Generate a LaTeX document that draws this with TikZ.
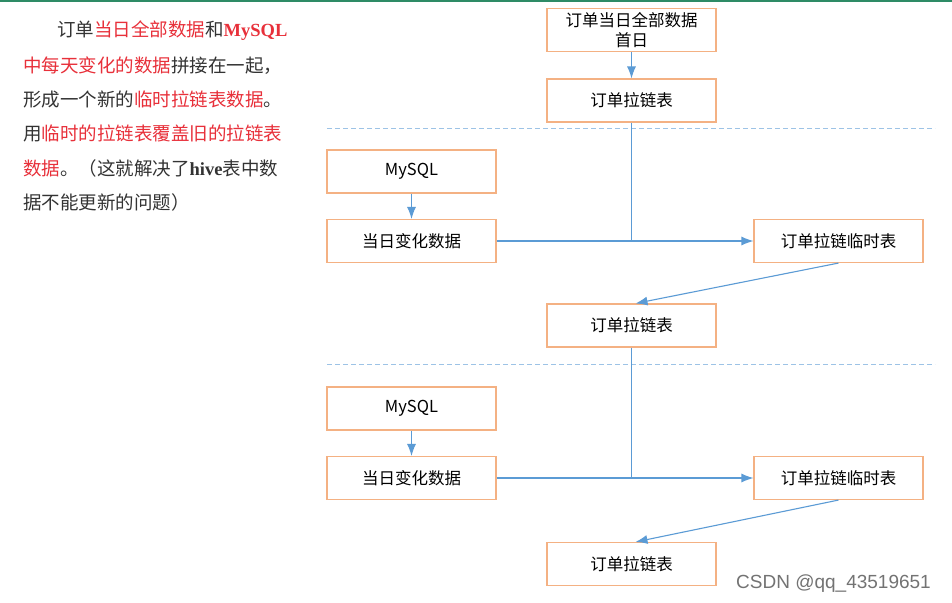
\documentclass[tikz,border=0pt]{standalone}
\usepackage{fontspec}
\setmainfont{Noto Sans CJK SC}
\newfontfamily\latinserif{Liberation Serif}
\newfontfamily\wmfont{Liberation Sans}
\usetikzlibrary{arrows.meta}
\definecolor{boxline}{HTML}{F4B183}
\definecolor{arrowc}{HTML}{5B9BD5}
\definecolor{dashc}{HTML}{9DC3E6}
\definecolor{redtxt}{HTML}{E8303A}
\definecolor{txt}{HTML}{333333}
\definecolor{topgreen}{HTML}{2E8B66}
\tikzset{
  flowbox/.style={draw=boxline, line width=1.1pt, fill=white, minimum width=169pt, minimum height=43pt, inner sep=0pt, font=\fontsize{16.5}{20}\selectfont, text=black, align=center},
  conn/.style={draw=arrowc, line width=1.1pt},
  arr/.style={conn, -{Latex[length=12pt,width=9pt]}},
  sep/.style={draw=dashc, line width=0.8pt, dash pattern=on 5pt off 3pt},
  para/.style={anchor=base west, inner sep=0pt, font=\fontsize{18.5}{22}\selectfont, text=txt},
}
\newcommand{\rd}[1]{\textcolor{redtxt}{#1}}
\begin{document}
\begin{tikzpicture}[x=1pt,y=-1pt]
\useasboundingbox (0,0) rectangle (952,602);
\fill[white] (0,0) rectangle (952,602);
\fill[topgreen] (0,0) rectangle (952,2.5);

% left paragraph
\node[para] (l1) at (57,37) {订单\rd{当日全部数据}和\rd{\latinserif\bfseries MySQL}};
\node[para] (l2) at (23,72) {\rd{中每天变化的数据}拼接在一起，};
\node[para] (l3) at (23,106) {形成一个新的\rd{临时拉链表数据}。};
\node[para] (l4) at (23,140) {用\rd{临时的拉链表覆盖旧的拉链表}};
\node[para] (l5) at (23,175) {\rd{数据}。（这就解决了{\latinserif\bfseries hive}表中数};
\node[para] (l6) at (23,209) {据不能更新的问题）};

% boxes
\node[flowbox] (first) at (631.5,30) {订单当日全部数据\\[0pt]首日};
\node[flowbox] (zip0) at (631.5,100.5) {订单拉链表};

\node[flowbox] (my1) at (411.5,171.5) {MySQL};
\node[flowbox] (chg1) at (411.5,241) {当日变化数据};
\node[flowbox] (tmp1) at (838.5,241) {订单拉链临时表};
\node[flowbox] (zip1) at (631.5,325.5) {订单拉链表};

\node[flowbox] (my2) at (411.5,408.5) {MySQL};
\node[flowbox] (chg2) at (411.5,478) {当日变化数据};
\node[flowbox] (tmp2) at (838.5,478) {订单拉链临时表};
\node[flowbox] (zip2) at (631.5,564) {订单拉链表};

% dashed separators
\coordinate (s1a) at (327,128);
\coordinate (s1b) at (935,128);
\coordinate (s2a) at (327,364);
\coordinate (s2b) at (935,364);
\draw[sep] (s1a) -- (s1b);
\draw[sep] (s2a) -- (s2b);

% connectors
\draw[arr] (first) -- (zip0);
\draw[arr] (my1) -- (chg1);
\draw[arr] (chg1) -- (tmp1);
\draw[conn] (zip0.south) -- (zip0.south |- chg1.east);
\draw[arr] (tmp1.south) -- ([xshift=4pt]zip1.north);

\draw[arr] (my2) -- (chg2);
\draw[arr] (chg2) -- (tmp2);
\draw[conn] (zip1.south) -- (zip1.south |- chg2.east);
\draw[arr] (tmp2.south) -- ([xshift=4pt]zip2.north);

% watermark
\node[anchor=base west, inner sep=0pt, text=black!55, font=\wmfont\fontsize{19}{21}\selectfont] (wm) at (736,588) {CSDN @qq\_43519651};
\end{tikzpicture}
\end{document}
